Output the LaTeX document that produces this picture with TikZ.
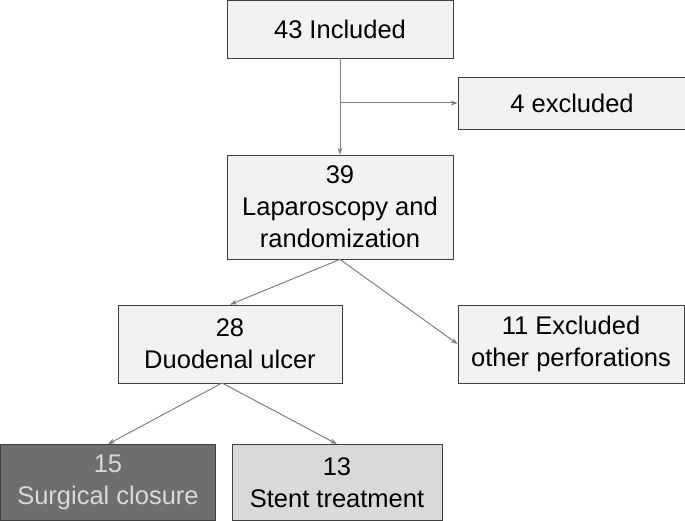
\documentclass[tikz,border=0pt]{standalone}
\usepackage{fontspec}
\setmainfont{Liberation Sans}
\usetikzlibrary{arrows.meta}
\begin{document}
\begin{tikzpicture}[x=1pt,y=-1pt,
  box/.style={draw=black!75,line width=0.8pt,fill=black!5,align=center,font=\fontsize{25.5}{32}\selectfont,inner sep=0pt},
  arr/.style={draw=black!50,line width=1pt,-{Stealth[length=7pt,width=5pt]}}]
\useasboundingbox (0,0) rectangle (685,521);
\node[box,minimum width=226,minimum height=58] (inc) at (340,29) {43 Included};
\node[box,minimum width=228,minimum height=52] (exc) at (572,103) {4 excluded};
\node[box,minimum width=226,minimum height=104] (lap) at (340,207) {39\\Laparoscopy and\\randomization};
\node[box,minimum width=224,minimum height=78] (duo) at (230,344) {28\\Duodenal ulcer};
\node[box,minimum width=226,minimum height=78] (oth) at (571,344) {11 Excluded\\other perforations};
\node[box,minimum width=215,minimum height=76,fill=black!57,text=black!15] (sur) at (108,482.5) {15\\Surgical closure};
\node[box,minimum width=210,minimum height=76,fill=black!15] (ste) at (337,482.5) {13\\Stent treatment};
\coordinate (br) at (340,103);
\draw[arr] (inc.south) -- (lap.north);
\draw[arr] (br) -- (exc.west);
\draw[arr] (lap.south) -- (duo.north);
\draw[arr] (lap.south) -- (oth.west);
\coordinate (db) at (222,383);
\draw[arr] (db) -- (sur.north);
\draw[arr] (db) -- (ste.north);
\end{tikzpicture}
\end{document}
